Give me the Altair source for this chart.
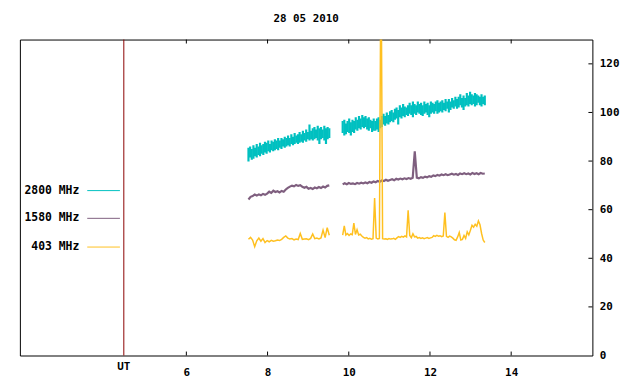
import altair as alt
import numpy as np
import pandas as pd

TITLE = "28 05 2010"
SERIES = ["2800 MHz", "1580 MHz", "403 MHz"]
COLORS = ["#00c0c0", "#7f5f7f", "#ffc020"]

# segment time spans (UT hours)
SEG1 = (7.53, 9.52)
SEG2 = (9.85, 13.35)

# 2800 MHz: dense noisy trace, per-sample low / high envelope
f2800_seg1_hi = [85.5, 86.0, 85.0, 86.5, 85.5, 87.0, 86.0, 87.5, 86.5, 87.0,
                 88.0, 87.5, 88.5, 87.0, 88.5, 88.0, 89.0, 88.5, 89.5, 88.5,
                 89.5, 89.0, 90.0, 89.5, 90.5, 89.5, 91.0, 90.0, 91.5, 90.5,
                 91.0, 92.0, 91.0, 92.5, 91.5, 93.0, 92.0, 95.0, 92.5, 93.5,
                 94.0, 93.0, 94.5, 93.5, 94.0, 93.0, 94.5, 93.5, 94.0, 93.5]
f2800_seg1_lo = [79.8, 81.5, 80.5, 81.0, 82.0, 81.5, 82.5, 82.0, 83.0, 82.5,
                 83.5, 83.0, 84.0, 83.5, 84.5, 84.0, 84.5, 85.0, 84.5, 85.5,
                 85.0, 86.0, 85.5, 86.0, 86.5, 86.0, 87.0, 86.5, 87.0, 87.5,
                 87.0, 87.5, 88.0, 87.5, 88.5, 88.0, 89.0, 88.5, 89.0, 88.5,
                 89.0, 89.5, 88.5, 87.0, 89.0, 89.5, 88.5, 87.0, 89.0, 89.5]
f2800_seg2_hi = [96.5, 97.0, 95.5, 96.5, 97.5, 96.0, 97.0, 96.5, 98.0, 97.0,
                 98.5, 97.5, 99.0, 98.0, 98.5, 97.5, 98.0, 97.0, 96.5, 97.5,
                 96.5, 97.5, 98.0, 97.0, 98.5, 99.5, 98.5, 100.0, 99.0, 100.5,
                 101.0, 100.0, 101.5, 102.0, 101.0, 103.0, 102.0, 103.5, 102.5, 102.0,
                 103.0, 104.0, 103.0, 104.5, 103.5, 103.0, 104.5, 103.5, 104.0, 103.0,
                 104.5, 103.5, 104.0, 103.0, 104.5, 104.0, 103.5, 104.5, 105.0, 104.0,
                 104.5, 105.0, 104.0, 105.5, 104.5, 105.5, 104.5, 106.0, 105.0, 106.5,
                 105.5, 106.5, 107.5, 106.0, 107.0, 106.0, 108.0, 107.0, 108.5, 107.5,
                 107.0, 108.0, 107.5, 107.0, 106.5, 107.5, 106.5, 107.0]
f2800_seg2_lo = [91.5, 90.5, 91.0, 92.0, 91.5, 90.5, 92.0, 91.5, 93.0, 92.5,
                 93.5, 93.0, 94.0, 93.5, 94.0, 93.0, 92.5, 93.5, 92.0, 92.5,
                 92.5, 93.0, 92.0, 93.5, 94.0, 95.0, 94.5, 95.5, 95.0, 96.0,
                 96.5, 96.0, 97.0, 97.5, 95.0, 98.0, 97.5, 98.5, 98.0, 99.0,
                 98.5, 99.5, 99.0, 98.0, 99.5, 99.0, 100.0, 99.5, 99.0, 98.5,
                 99.5, 100.0, 99.0, 98.0, 99.5, 100.0, 99.5, 100.5, 99.5, 100.0,
                 100.5, 100.0, 101.0, 100.5, 101.5, 100.0, 101.0, 102.0, 101.5, 102.5,
                 101.5, 102.0, 103.0, 102.0, 101.0, 102.5, 103.0, 102.5, 103.5, 103.0,
                 103.5, 102.5, 103.0, 104.0, 103.0, 102.5, 103.5, 103.0]

f1580_seg1 = [64.2, 65.3, 65.6, 66.2, 65.8, 66.3, 65.9, 66.5, 66.1, 66.6,
              67.4, 66.9, 67.8, 67.3, 67.6, 67.1, 67.7, 67.4, 68.3, 69.0,
              69.5, 69.9, 69.6, 70.2, 69.8, 70.1, 69.4, 69.0, 69.4, 68.6,
              68.9, 68.5, 69.1, 68.8, 69.3, 68.9, 69.5, 69.1, 69.8, 70.0]
f1580_seg2 = [70.4, 70.9, 70.5, 71.0, 70.6, 70.8, 70.5, 71.0, 70.7, 71.1,
              70.8, 71.2, 70.9, 71.4, 71.1, 71.6, 71.3, 71.8, 71.5, 72.0,
              71.8, 72.3, 71.9, 72.2, 72.5, 72.1, 72.7, 72.4, 72.8, 72.5,
              72.9, 72.6, 73.0, 72.7, 73.1, 84.0, 73.2, 72.9, 73.4, 73.1,
              73.6, 73.3, 73.8, 73.5, 74.1, 73.8, 74.3, 74.0, 74.5, 74.2,
              74.6, 74.2, 74.5, 74.8, 74.4, 74.7, 74.3, 74.9, 74.6, 75.0,
              74.6, 74.9, 74.5, 75.1, 74.7, 75.0, 74.6, 75.1, 74.8, 74.9]

f403_seg1 = [47.8, 48.6, 47.5, 44.8, 47.2, 48.3, 47.0, 48.1, 46.5, 47.3,
             46.8, 47.4, 47.0, 47.2, 47.5, 47.3, 47.8, 48.6, 49.2, 48.3,
             47.9, 48.1, 47.6, 47.9, 47.7, 50.2, 47.8, 47.9, 48.0, 47.7,
             48.2, 50.0, 48.1, 48.3, 48.0, 48.4, 51.6, 48.5, 52.6, 49.5]
f403_seg2 = [49.5, 53.3, 49.6, 50.2, 49.4, 50.0, 49.7, 54.5, 49.8, 51.8,
             49.6, 49.9, 49.2, 48.6, 48.3, 48.5, 48.0, 48.2, 47.9, 48.1,
             64.8, 48.3, 48.0, 48.2, 170.0, 48.1, 47.9, 48.0, 47.8, 48.1,
             47.9, 48.0, 48.2, 47.8, 48.4, 48.9, 48.6, 49.0, 48.7, 49.2,
             48.8, 59.7, 49.4, 48.5, 50.1, 48.8, 49.0, 48.3, 48.5, 48.2,
             48.4, 48.1, 48.3, 48.5, 48.2, 48.4, 48.6, 49.3, 49.0, 49.4,
             49.1, 49.3, 48.9, 49.2, 58.8, 49.0, 48.6, 49.1, 48.8, 48.3,
             47.6, 47.4, 48.8, 50.6, 47.5, 47.8, 49.4, 48.2, 50.9, 49.6,
             51.5, 53.6, 52.8, 54.0, 53.2, 55.4, 53.8, 50.2, 47.5, 46.5]

X_TICKS = [6, 8, 10, 12, 14]
Y_TICKS = [0, 20, 40, 60, 80, 100, 120]
UT_MARK = [4.46]
X_DOMAIN = [1.9, 16.0]
Y_DOMAIN = [0, 130]

W, H = 578, 319
FONT = "DejaVu Sans Mono"


def seg_frame(name, seg, span, vals):
    t = np.linspace(span[0], span[1], len(vals))
    return pd.DataFrame({"t": t, "v": vals, "series": name, "seg": seg})


def env_frame(name, span, lo, hi):
    t = np.linspace(span[0], span[1], len(lo))
    return pd.DataFrame({"t": t, "v": lo, "v2": hi, "series": name})


env = pd.concat([
    env_frame("2800 MHz", SEG1, f2800_seg1_lo, f2800_seg1_hi),
    env_frame("2800 MHz", SEG2, f2800_seg2_lo, f2800_seg2_hi),
], ignore_index=True)

df = pd.concat([
    seg_frame("1580 MHz", 1, SEG1, f1580_seg1),
    seg_frame("1580 MHz", 2, SEG2, f1580_seg2),
    seg_frame("403 MHz", 1, SEG1, f403_seg1),
    seg_frame("403 MHz", 2, SEG2, f403_seg2),
], ignore_index=True)

x_enc = alt.X("t:Q", scale=alt.Scale(domain=X_DOMAIN, nice=False, zero=False),
              axis=alt.Axis(values=X_TICKS, ticks=False, domain=False, grid=False,
                            title=None, labelFont=FONT, labelFontWeight="bold",
                            labelFontSize=11, labelColor="black", labelPadding=11,
                            format="d"))
y_enc = alt.Y("v:Q", scale=alt.Scale(domain=Y_DOMAIN, nice=False, zero=False),
              axis=alt.Axis(orient="right", values=Y_TICKS, ticks=False, domain=False,
                            grid=False, title=None, labelFont=FONT,
                            labelFontWeight="bold", labelFontSize=11,
                            labelColor="black", labelPadding=7, labelAlign="left"))
color_enc = alt.Color("series:N", scale=alt.Scale(domain=SERIES, range=COLORS), legend=None)

teal = alt.Chart(env).mark_rule(strokeWidth=2.2, clip=True).encode(
    x=x_enc, y=y_enc, y2="v2:Q", color=color_enc)
purple = alt.Chart(df).transform_filter(alt.datum.series == "1580 MHz").mark_line(
    strokeWidth=2.2, clip=True).encode(x=x_enc, y=y_enc, color=color_enc, detail="seg:N")
orange = alt.Chart(df).transform_filter(alt.datum.series == "403 MHz").mark_line(
    strokeWidth=1.5, clip=True).encode(x=x_enc, y=y_enc, color=color_enc, detail="seg:N")

ut_df = pd.DataFrame({"t": UT_MARK, "label": ["UT"]})
ut_line = alt.Chart(ut_df).mark_rule(color="#8b0000", strokeWidth=1).encode(x=x_enc)
ut_text = alt.Chart(ut_df).mark_text(font=FONT, fontWeight="bold", fontSize=11,
                                      color="black", baseline="middle").encode(
    x=x_enc, y=alt.value(H + 12), text="label:N")

xt_df = pd.DataFrame({"t": X_TICKS})
bottom_ticks = alt.Chart(xt_df).mark_rule(color="black").encode(
    x=x_enc, y=alt.value(H), y2=alt.value(H - 4))
top_ticks = alt.Chart(xt_df).mark_rule(color="black").encode(
    x=x_enc, y=alt.value(0), y2=alt.value(4))
yt_df = pd.DataFrame({"v": Y_TICKS[1:]})
right_ticks = alt.Chart(yt_df).mark_rule(color="black").encode(
    y=y_enc, x=alt.value(W), x2=alt.value(W - 4))

leg_df = pd.DataFrame({"series": SERIES, "ly": [152.5, 180.5, 209.5]})
leg_text = alt.Chart(leg_df).mark_text(font=FONT, fontWeight="bold", fontSize=11.5,
                                       color="black", align="right",
                                       baseline="middle").encode(
    x=alt.value(60), y=alt.Y("ly:Q", scale=None), text="series:N")
leg_line = alt.Chart(leg_df).mark_rule(strokeWidth=1).encode(
    x=alt.value(68), x2=alt.value(101), y=alt.Y("ly:Q", scale=None), color=color_enc)

chart = alt.layer(
    ut_line, teal, purple, orange, bottom_ticks, top_ticks, right_ticks,
    ut_text, leg_line, leg_text
).properties(
    width=W, height=H,
    title=alt.TitleParams(TITLE, font=FONT, fontWeight="bold", fontSize=11,
                          color="black", anchor="middle", offset=15),
    autosize=alt.AutoSizeParams(type="none"),
    padding={"left": 12, "top": 30, "right": 40, "bottom": 36},
).configure_view(stroke="black", strokeWidth=1)

chart.save("out.html", embed_options={"renderer": "svg", "actions": False})
